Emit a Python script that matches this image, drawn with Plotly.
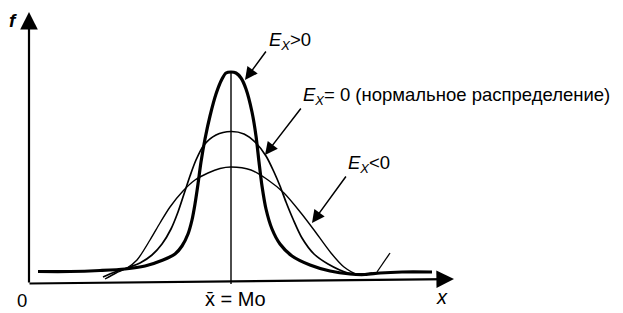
import plotly.graph_objects as go

# ---- data (x = distance from origin, f = height) ----
lepto_x = [8, 40, 70, 95, 115, 133, 145, 152, 158, 162, 165, 168, 171, 175, 180, 186, 192, 196, 201,
           206, 211, 216, 222, 226, 229, 232, 236, 242, 250, 262, 280, 300, 320, 335, 350, 372, 402]
lepto_f = [12.5, 12.5, 13.5, 15, 18, 24, 30, 38, 50, 64, 80, 100, 122, 145, 168, 190, 205, 211, 212,
           211, 206, 195, 172, 148, 122, 98, 75, 55, 40, 28, 19, 13, 10, 9.5, 11, 12, 12]

norm_x = [73, 85, 97, 110, 122, 132, 141, 148, 154, 160, 166, 174, 186, 201,
          214, 226, 236, 244, 250, 256, 263, 272, 284, 298, 318, 335]
norm_f = [7, 12, 16, 21, 29, 40, 55, 72, 90, 108, 124, 139, 149, 152.5,
          150, 141, 128, 112, 98, 82, 65, 46, 30, 20, 11, 9]

platy_x = [75, 86, 97, 107, 120, 130, 140, 153, 165, 178, 190, 201,
           221, 238, 254, 271, 284, 301, 314, 328, 342]
platy_f = [5, 11, 16, 24, 44, 61, 77, 93, 104, 111, 115.5, 117,
           114, 104, 91, 71, 54, 31, 17, 9.5, 11]

stroke_x = [347, 360]
stroke_f = [12, 31]

mode_x = 201
mode_top = 212

CURVES = [
    (lepto_x, lepto_f, 3.2),
    (norm_x, norm_f, 1.7),
    (platy_x, platy_f, 1.4),
    (stroke_x, stroke_f, 1.3),
]

fig = go.Figure()
for xs, fs, w in CURVES:
    fig.add_trace(go.Scatter(x=xs, y=fs, mode="lines",
                             line=dict(color="black", width=w, shape="spline", smoothing=0.8),
                             hoverinfo="skip", showlegend=False))

# vertical line at the mode
fig.add_trace(go.Scatter(x=[mode_x, mode_x], y=[0, mode_top], mode="lines",
                         line=dict(color="black", width=1.4), hoverinfo="skip", showlegend=False))

FONT = "Liberation Sans, Arial, sans-serif"

ann = []
# axes with arrows
ann.append(dict(x=-1, y=272, ax=-1, ay=0, xref="x", yref="y", axref="x", ayref="y",
                text="", showarrow=True, arrowhead=2, arrowsize=1.6, arrowwidth=2.2, arrowcolor="black"))
ann.append(dict(x=424, y=5, ax=-2, ay=0.5, xref="x", yref="y", axref="x", ayref="y",
                text="", showarrow=True, arrowhead=2, arrowsize=1.6, arrowwidth=2.2, arrowcolor="black"))

# pointer arrows
arrows = [((215, 204), (237, 234)),
          ((235, 129), (272, 177)),
          ((282, 61), (317, 109))]
for (tx, ty), (sx, sy) in arrows:
    ann.append(dict(x=tx, y=ty, ax=sx, ay=sy, xref="x", yref="y", axref="x", ayref="y",
                    text="", showarrow=True, arrowhead=2, arrowsize=1.7, arrowwidth=1.5,
                    arrowcolor="black"))

def label(x, y, text, size=18.5, xanchor="center"):
    ann.append(dict(x=x, y=y, xref="x", yref="y", text=text, showarrow=False,
                    xanchor=xanchor, yanchor="middle",
                    font=dict(family=FONT, size=size, color="black")))

label(237, 243, "<i>E</i><sub><i>X</i></sub>&gt;0", xanchor="left")
label(271, 188, "<i>E</i><sub><i>X</i></sub>= 0 (нормальное распределение)", xanchor="left")
label(316, 120, "<i>E</i><sub><i>X</i></sub>&lt;0", xanchor="left")
label(-17, 264, "<b><i>f</i></b>", size=19)
label(-8, -16, "0", size=18.5)
label(205, -15, "x\u0304 = Mo", size=20)
label(412, -13, "<i>x</i>", size=20)

fig.update_layout(
    width=623, height=313,
    margin=dict(l=0, r=0, t=0, b=0),
    paper_bgcolor="white", plot_bgcolor="white",
    xaxis=dict(range=[-30, 593], visible=False, fixedrange=True),
    yaxis=dict(range=[-29, 284], visible=False, fixedrange=True),
    annotations=ann,
    showlegend=False,
)

fig.write_html("out.html")
